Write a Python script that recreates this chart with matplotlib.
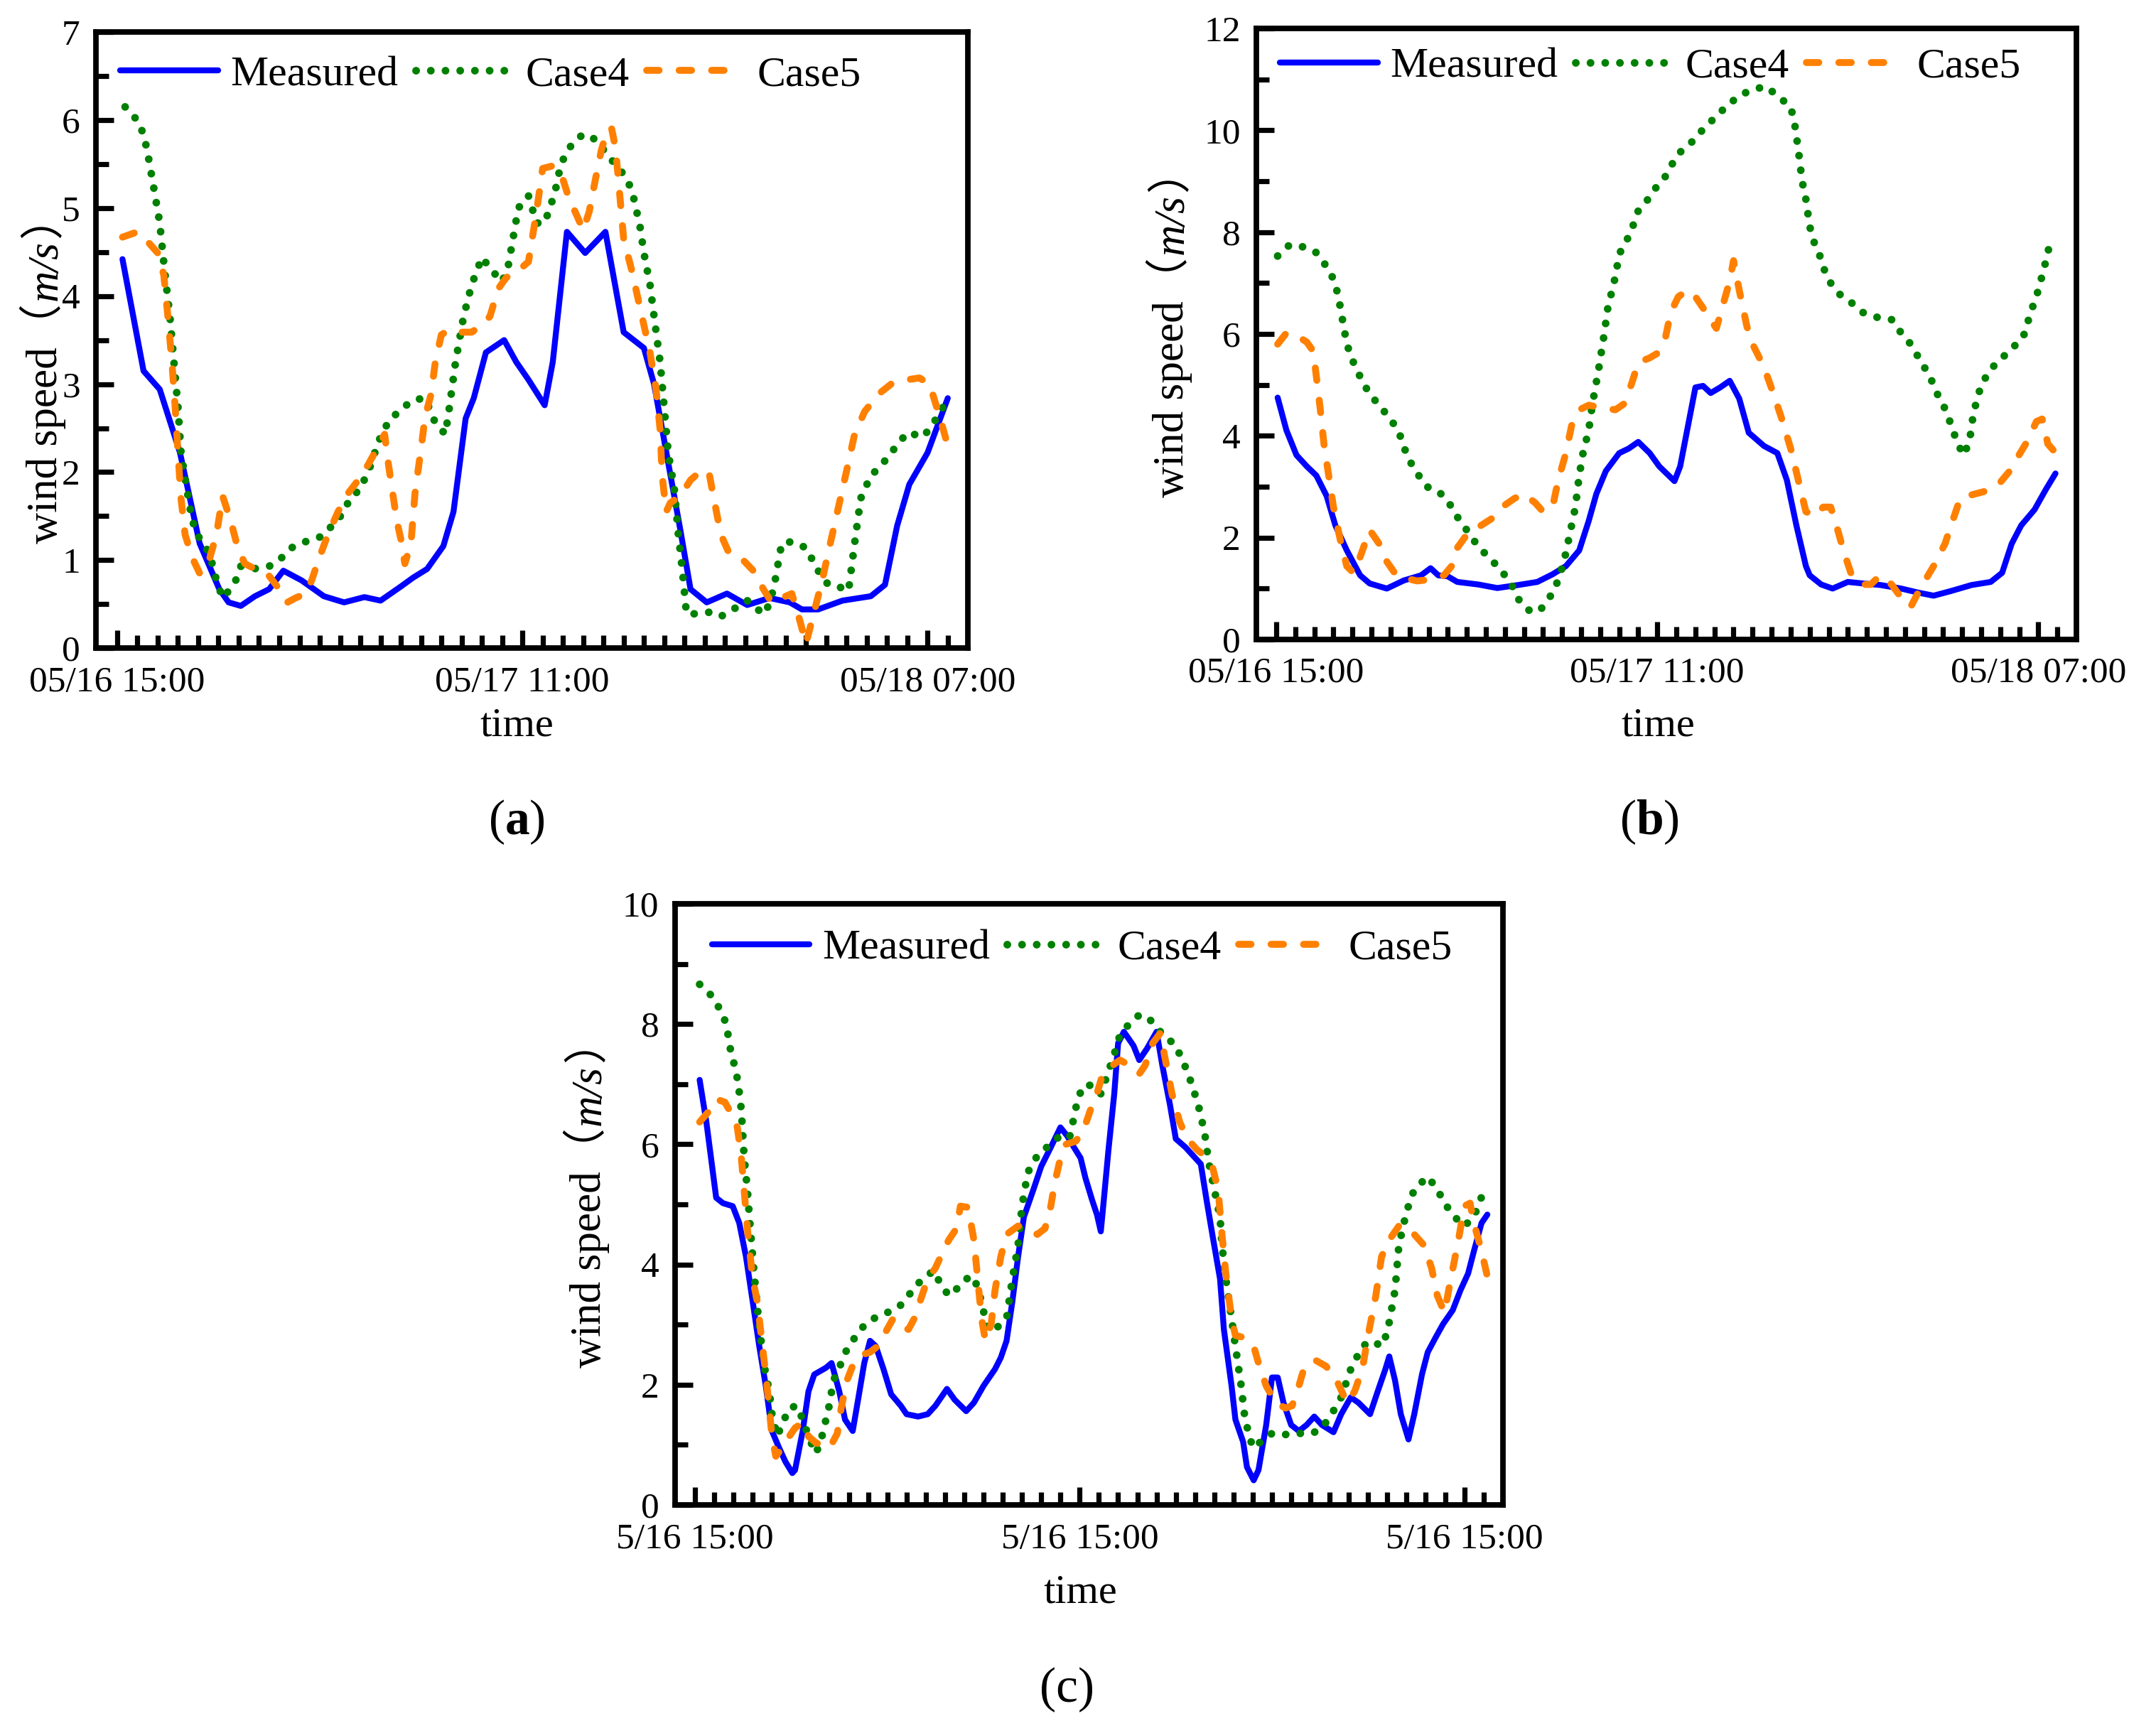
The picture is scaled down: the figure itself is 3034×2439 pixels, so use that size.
import matplotlib
matplotlib.use('Agg')
import matplotlib.pyplot as plt
from matplotlib.ticker import FixedLocator, MultipleLocator

plt.rcParams['font.family'] = ['Liberation Serif', 'Noto Sans CJK SC']
plt.rcParams['mathtext.fontset'] = 'custom'
plt.rcParams['mathtext.rm'] = 'Liberation Serif'
plt.rcParams['mathtext.bf'] = 'Liberation Serif:bold'

# ---- data (hours after 05/16 15:00, wind speed m/s) ----
a_meas_t = [0.26, 1.3, 2.1, 3.1, 4.07, 5.04, 5.5, 6.1, 6.8, 7.5,
            8.2, 9.1, 10.2, 11.2, 12.2, 13.0, 14.0, 14.6, 15.3, 16.1,
            16.6, 17.2, 17.6, 18.2, 19.1, 19.7, 20.3, 21.1, 21.5, 22.2,
            23.1, 24.1, 25.0, 26.0, 26.5, 27.8, 28.3, 29.1, 30.1, 31.1,
            32.2, 33.2, 33.8, 34.6, 35.8, 37.2, 37.9, 38.5, 39.1, 40.0,
            41.0]
a_meas_v = [4.42, 3.15, 2.94, 2.22, 1.19, 0.67, 0.52, 0.48, 0.59, 0.67,
            0.88, 0.77, 0.59, 0.52, 0.58, 0.54, 0.70, 0.80, 0.90, 1.16,
            1.55, 2.61, 2.84, 3.36, 3.50, 3.25, 3.05, 2.76, 3.25, 4.73,
            4.49, 4.73, 3.59, 3.41, 3.00, 1.34, 0.67, 0.52, 0.62, 0.49,
            0.57, 0.52, 0.44, 0.44, 0.54, 0.59, 0.72, 1.39, 1.86, 2.22,
            2.84]

a_c4_t = [0.39, 0.98, 1.3, 1.5, 1.85, 2.1, 2.34, 2.6, 2.8, 3.0,
          3.15, 3.4, 3.7, 4.07, 4.55, 4.9, 5.2, 5.5, 5.85, 6.1,
          6.7, 7.5, 8.0, 8.6, 9.3, 10.1, 10.6, 11.1, 11.5, 12.0,
          12.5, 12.9, 13.4, 14.0, 14.6, 15.2, 15.7, 16.2, 16.4, 16.7,
          17.1, 17.5, 18.0, 18.5, 19.0, 19.3, 19.8, 20.3, 20.7, 21.1,
          21.6, 21.9, 22.3, 22.8, 23.2, 23.7, 24.2, 24.7, 25.2, 25.5,
          25.8, 26.0, 26.3, 26.5, 26.8, 27.0, 27.2, 27.5, 27.7, 27.9,
          28.1, 28.6, 29.3, 29.8, 30.4, 31.1, 31.6, 32.0, 32.4, 32.8,
          33.3, 34.0, 34.6, 35.1, 35.6, 36.1, 36.4, 36.7, 37.2, 37.7,
          38.2, 39.0, 39.8, 40.5, 41.0]
a_c4_v = [6.15, 6.00, 5.84, 5.63, 5.17, 4.83, 4.29, 3.77, 3.25, 2.74,
          2.22, 1.86, 1.45, 1.24, 1.08, 0.77, 0.57, 0.65, 0.77, 0.93,
          0.90, 0.93, 1.00, 1.14, 1.21, 1.27, 1.39, 1.52, 1.70, 1.81,
          2.07, 2.35, 2.58, 2.71, 2.82, 2.84, 2.56, 2.43, 2.74, 3.25,
          3.77, 4.13, 4.44, 4.29, 4.16, 4.34, 5.00, 5.14, 4.83, 4.83,
          5.17, 5.50, 5.68, 5.81, 5.84, 5.76, 5.60, 5.47, 5.32, 5.11,
          4.80, 4.49, 4.13, 3.77, 3.25, 2.74, 2.22, 1.81, 1.29, 0.88,
          0.39, 0.39, 0.41, 0.36, 0.44, 0.54, 0.44, 0.39, 0.67, 1.19,
          1.21, 1.14, 0.88, 0.72, 0.70, 0.65, 1.19, 1.70, 1.96, 2.07,
          2.22, 2.45, 2.40, 2.63, 2.84]

a_c5_t = [0.26, 1.0, 1.5, 2.0, 2.3, 2.5, 2.7, 2.86, 3.0, 3.15,
          3.35, 3.7, 4.07, 4.45, 4.9, 5.2, 5.6, 5.95, 6.3, 6.8,
          7.4, 7.9, 8.4, 8.8, 9.3, 9.6, 9.9, 10.4, 10.9, 11.4,
          11.9, 12.4, 12.9, 13.2, 13.4, 13.8, 14.0, 14.2, 14.5, 14.7,
          15.0, 15.2, 15.5, 15.7, 16.0, 16.4, 16.9, 17.5, 18.0, 18.4,
          18.8, 19.2, 19.8, 20.3, 20.7, 21.0, 21.5, 21.9, 22.3, 22.7,
          23.0, 23.3, 23.6, 23.9, 24.2, 24.4, 24.6, 24.8, 25.0, 25.4,
          25.7, 26.0, 26.3, 26.6, 26.8, 26.9, 27.1, 27.3, 27.8, 28.3,
          28.8, 29.2, 29.4, 29.8, 30.2, 30.9, 31.4, 31.9, 32.3, 32.8,
          33.3, 33.7, 34.0, 34.4, 34.8, 35.2, 35.6, 36.0, 36.4, 36.9,
          37.6, 38.2, 39.0, 39.6, 40.1, 40.6, 41.0]
a_c5_v = [4.67, 4.73, 4.62, 4.49, 4.24, 3.77, 3.25, 2.74, 2.22, 1.70,
          1.29, 1.03, 0.85, 0.93, 1.29, 1.73, 1.45, 1.14, 0.96, 0.90,
          0.85, 0.70, 0.52, 0.57, 0.62, 0.77, 0.98, 1.29, 1.55, 1.76,
          1.91, 2.09, 2.30, 2.43, 2.07, 1.45, 1.24, 0.96, 1.19, 1.76,
          2.27, 2.63, 2.89, 3.25, 3.56, 3.62, 3.59, 3.59, 3.67, 3.77,
          4.08, 4.21, 4.29, 4.39, 4.96, 5.45, 5.48, 5.40, 5.11, 4.91,
          4.75, 4.96, 5.32, 5.66, 5.89, 5.91, 5.68, 5.17, 4.65, 4.29,
          3.98, 3.67, 3.36, 2.94, 2.48, 1.96, 1.55, 1.65, 1.73, 1.91,
          2.01, 2.01, 1.76, 1.29, 1.08, 1.00, 0.88, 0.67, 0.52, 0.57,
          0.62, 0.31, 0.05, 0.41, 0.77, 1.19, 1.60, 2.01, 2.43, 2.69,
          2.89, 3.00, 3.05, 3.07, 3.00, 2.63, 2.30]

b_meas_t = [0.07, 0.53, 1.06, 1.6, 2.1, 2.64, 3.1, 3.7, 4.4, 4.9,
            5.8, 6.7, 7.6, 8.1, 8.5, 9.0, 9.5, 10.6, 11.6, 12.7,
            13.7, 14.5, 15.2, 15.9, 16.4, 16.8, 17.3, 18.0, 18.5, 19.0,
            19.6, 20.1, 20.9, 21.2, 21.7, 22.0, 22.4, 22.8, 23.3, 23.8,
            24.3, 24.8, 25.6, 26.3, 26.8, 27.3, 27.8, 28.0, 28.6, 29.2,
            30.0, 30.8, 31.7, 32.8, 33.7, 34.5, 35.4, 36.5, 37.5, 38.1,
            38.6, 39.1, 39.8, 40.4, 40.9]
b_meas_v = [4.75, 4.11, 3.62, 3.40, 3.22, 2.82, 2.24, 1.75, 1.26, 1.10,
            1.00, 1.16, 1.26, 1.40, 1.26, 1.24, 1.13, 1.08, 1.01, 1.07,
            1.13, 1.28, 1.44, 1.75, 2.33, 2.86, 3.31, 3.66, 3.75, 3.88,
            3.66, 3.40, 3.11, 3.40, 4.37, 4.95, 4.98, 4.84, 4.95, 5.08,
            4.73, 4.06, 3.80, 3.66, 3.13, 2.24, 1.44, 1.26, 1.08, 1.00,
            1.13, 1.10, 1.07, 1.00, 0.92, 0.86, 0.95, 1.07, 1.13, 1.31,
            1.88, 2.24, 2.55, 2.95, 3.26]

b_c4_t = [0.07, 0.7, 1.4, 2.04, 2.5, 3.0, 3.24, 3.45, 3.7, 4.05,
          4.5, 4.9, 5.4, 5.9, 6.4, 6.9, 7.4, 7.9, 8.5, 9.0,
          9.4, 9.9, 10.4, 10.9, 11.5, 12.0, 12.4, 12.8, 13.4, 13.9,
          14.5, 14.8, 15.1, 15.4, 15.7, 15.9, 16.1, 16.4, 16.6, 16.9,
          17.2, 17.4, 17.8, 18.0, 18.4, 18.75, 19.0, 19.5, 19.9, 20.4,
          20.8, 21.2, 21.9, 22.4, 23.0, 23.6, 24.3, 25.0, 25.7, 26.3,
          27.0, 27.2, 27.4, 27.6, 27.8, 28.0, 28.3, 28.6, 28.8, 29.1,
          29.6, 30.2, 30.8, 31.5, 32.3, 32.8, 33.3, 33.8, 34.3, 34.7,
          35.2, 35.5, 35.9, 36.1, 36.4, 36.6, 37.0, 37.5, 38.1, 38.6,
          39.2, 39.6, 40.0, 40.4, 40.7]
b_c4_v = [7.53, 7.75, 7.71, 7.62, 7.40, 7.08, 6.77, 6.33, 5.80, 5.44,
          5.08, 4.82, 4.60, 4.37, 4.11, 3.57, 3.26, 3.00, 2.91, 2.73,
          2.46, 2.20, 1.93, 1.71, 1.48, 1.26, 1.04, 0.73, 0.53, 0.60,
          0.91, 1.17, 1.53, 2.06, 2.60, 3.22, 3.66, 4.11, 4.64, 5.26,
          5.97, 6.51, 7.13, 7.57, 7.84, 8.15, 8.42, 8.64, 8.86, 9.08,
          9.35, 9.57, 9.80, 10.02, 10.24, 10.46, 10.68, 10.80, 10.86, 10.68,
          10.46, 10.15, 9.62, 9.00, 8.64, 8.11, 7.71, 7.48, 7.22, 7.00,
          6.77, 6.61, 6.42, 6.33, 6.28, 6.02, 5.80, 5.48, 5.17, 4.82,
          4.46, 4.11, 3.75, 3.62, 3.93, 4.46, 5.00, 5.31, 5.53, 5.71,
          5.93, 6.42, 6.86, 7.44, 7.93]

b_c5_t = [0.07, 0.53, 1.06, 1.6, 1.94, 2.1, 2.3, 2.5, 2.75, 3.0,
          3.35, 3.7, 4.05, 4.4, 4.9, 5.4, 5.8, 6.3, 6.9, 7.4,
          7.9, 8.5, 8.8, 9.2, 9.5, 10.0, 10.75, 11.5, 12.0, 12.5,
          13.0, 13.6, 14.0, 14.5, 14.8, 15.2, 15.5, 15.9, 16.4, 17.1,
          17.8, 18.3, 18.7, 19.0, 19.6, 20.0, 20.4, 20.7, 21.1, 21.6,
          22.0, 22.4, 22.7, 23.1, 23.4, 23.8, 24.0, 24.3, 24.7, 25.0,
          25.6, 26.1, 26.5, 27.0, 27.4, 27.8, 28.3, 28.7, 29.1, 29.4,
          29.8, 30.2, 30.7, 31.2, 31.7, 32.3, 32.8, 33.3, 33.8, 34.5,
          35.1, 35.5, 35.9, 36.5, 37.2, 37.9, 38.5, 38.9, 39.4, 39.9,
          40.2, 40.5, 40.8]
b_c5_v = [5.80, 6.02, 5.97, 5.84, 5.66, 5.17, 4.55, 3.84, 3.22, 2.60,
          1.97, 1.44, 1.31, 1.62, 2.15, 1.88, 1.53, 1.26, 1.19, 1.15,
          1.17, 1.22, 1.26, 1.44, 1.80, 2.06, 2.24, 2.42, 2.64, 2.77,
          2.86, 2.68, 2.51, 2.60, 3.13, 3.66, 4.20, 4.51, 4.60, 4.55,
          4.51, 4.64, 5.08, 5.44, 5.53, 5.62, 5.88, 6.42, 6.73, 6.86,
          6.73, 6.51, 6.33, 6.11, 6.51, 7.04, 7.44, 6.86, 6.15, 5.80,
          5.35, 4.82, 4.37, 3.75, 3.13, 2.51, 2.42, 2.60, 2.60, 2.24,
          1.71, 1.26, 1.08, 1.08, 1.26, 1.08, 0.82, 0.64, 1.00, 1.44,
          1.88, 2.33, 2.77, 2.84, 2.91, 3.04, 3.31, 3.57, 3.88, 4.28,
          4.33, 3.84, 3.71]

c_meas_t = [0.24, 0.59, 1.1, 1.45, 1.96, 2.3, 2.65, 3.0, 3.34, 3.68,
            4.0, 4.37, 4.7, 5.06, 5.2, 5.6, 5.9, 6.2, 6.8, 7.1,
            7.5, 7.8, 8.2, 8.5, 8.8, 9.1, 9.4, 9.8, 10.2, 10.7,
            11.0, 11.6, 12.1, 12.5, 13.1, 13.5, 14.1, 14.5, 15.0, 15.6,
            15.9, 16.2, 16.5, 16.8, 17.1, 17.6, 18.0, 18.5, 19.0, 19.35,
            19.7, 20.05, 20.3, 20.65, 20.9, 21.1, 21.2, 21.5, 21.8, 22.0,
            22.3, 22.8, 23.1, 23.5, 24.0, 24.3, 24.7, 25.0, 25.5, 25.9,
            26.3, 26.6, 26.9, 27.3, 27.5, 27.9, 28.1, 28.5, 28.7, 29.05,
            29.3, 29.7, 30.0, 30.3, 30.6, 31.0, 31.4, 31.8, 32.2, 32.6,
            33.2, 33.6, 34.1, 34.5, 35.1, 35.5, 35.9, 36.1, 36.4, 36.7,
            37.1, 37.4, 37.8, 38.1, 38.5, 38.9, 39.4, 39.8, 40.2, 40.5,
            40.9, 41.2]
c_meas_v = [7.07, 6.37, 5.11, 5.02, 4.97, 4.69, 4.13, 3.38, 2.64, 1.98,
            1.23, 0.95, 0.72, 0.53, 0.58, 1.23, 1.89, 2.17, 2.28, 2.36,
            1.89, 1.42, 1.23, 1.79, 2.36, 2.73, 2.64, 2.26, 1.84, 1.65,
            1.51, 1.47, 1.51, 1.65, 1.93, 1.75, 1.56, 1.70, 1.98, 2.26,
            2.45, 2.73, 3.38, 4.13, 4.79, 5.25, 5.63, 5.95, 6.28, 6.14,
            5.95, 5.77, 5.44, 5.07, 4.83, 4.55, 4.88, 5.91, 6.84, 7.68,
            7.87, 7.64, 7.40, 7.59, 7.87, 7.31, 6.65, 6.09, 5.95, 5.81,
            5.67, 5.07, 4.50, 3.76, 2.92, 1.98, 1.42, 1.05, 0.63, 0.41,
            0.58, 1.33, 2.12, 2.12, 1.70, 1.33, 1.23, 1.33, 1.47, 1.33,
            1.21, 1.51, 1.79, 1.70, 1.51, 1.89, 2.26, 2.47, 2.07, 1.51,
            1.09, 1.51, 2.17, 2.54, 2.78, 3.01, 3.24, 3.57, 3.85, 4.22,
            4.69, 4.83]

c_c4_t = [0.24, 0.83, 1.27, 1.62, 1.86, 2.07, 2.24, 2.41, 2.55, 2.72,
          2.9, 3.1, 3.24, 3.4, 3.6, 3.86, 4.0, 4.27, 4.54, 4.9,
          5.3, 5.6, 5.9, 6.2, 6.3, 6.6, 6.95, 7.2, 7.6, 7.9,
          8.3, 8.85, 9.4, 10.0, 10.6, 11.1, 11.5, 11.9, 12.4, 12.8,
          13.2, 13.7, 14.1, 14.5, 14.9, 15.2, 15.6, 15.9, 16.2, 16.5,
          16.8, 17.0, 17.3, 17.8, 18.3, 18.8, 19.2, 19.5, 19.9, 20.2,
          20.7, 21.1, 21.5, 21.8, 22.1, 22.6, 23.1, 23.5, 24.0, 24.4,
          24.9, 25.2, 25.6, 25.9, 26.2, 26.5, 26.7, 27.0, 27.3, 27.4,
          27.6, 27.9, 28.1, 28.4, 28.6, 29.0, 29.5, 30.0, 30.5, 31.05,
          31.6, 32.1, 32.6, 33.1, 33.6, 34.1, 34.7, 35.2, 35.7, 36.0,
          36.4, 36.6, 37.0, 37.4, 38.1, 38.6, 38.97, 39.5, 40.0, 40.5,
          41.0]
c_c4_v = [8.66, 8.48, 8.26, 8.01, 7.54, 7.29, 7.03, 6.56, 5.81, 5.25,
          4.50, 3.76, 3.29, 2.82, 2.31, 1.89, 1.51, 1.14, 1.35, 1.61,
          1.65, 1.42, 1.14, 0.91, 0.86, 1.14, 1.61, 2.07, 2.36, 2.59,
          2.78, 3.01, 3.12, 3.20, 3.29, 3.48, 3.66, 3.76, 3.90, 3.66,
          3.48, 3.62, 3.76, 3.80, 3.38, 2.92, 2.92, 3.01, 3.10, 3.76,
          4.32, 4.97, 5.53, 5.81, 5.95, 6.09, 6.19, 6.14, 6.75, 6.98,
          6.98, 6.84, 7.21, 7.50, 7.82, 8.01, 8.15, 8.12, 7.96, 7.78,
          7.68, 7.50, 7.21, 6.93, 6.61, 6.19, 5.72, 5.25, 4.79, 4.32,
          3.76, 3.10, 2.64, 1.98, 1.42, 0.95, 1.07, 1.19, 1.16, 1.19,
          1.19, 1.19, 1.28, 1.51, 1.79, 2.26, 2.64, 2.73, 2.64, 2.87,
          3.57, 4.32, 4.88, 5.25, 5.46, 5.25, 5.02, 4.79, 4.64, 4.79,
          5.21]

c_c5_t = [0.24, 0.7, 1.1, 1.55, 1.96, 2.2, 2.4, 2.55, 2.75, 3.0,
          3.24, 3.44, 3.68, 3.86, 4.0, 4.2, 4.54, 4.9, 5.2, 5.6,
          5.9, 6.3, 6.6, 7.0, 7.4, 7.6, 7.9, 8.3, 8.7, 9.1,
          9.5, 9.9, 10.3, 10.7, 11.1, 11.4, 11.8, 12.1, 12.5, 12.9,
          13.2, 13.6, 13.8, 14.2, 14.5, 14.7, 14.9, 15.1, 15.4, 15.6,
          15.9, 16.2, 16.8, 17.3, 17.8, 18.2, 18.5, 18.7, 19.0, 19.3,
          19.8, 20.2, 20.55, 20.9, 21.2, 21.7, 22.1, 22.6, 23.1, 23.4,
          23.8, 24.2, 24.4, 24.8, 25.2, 25.6, 26.1, 26.5, 26.9, 27.2,
          27.4, 27.6, 27.9, 28.1, 28.6, 29.05, 29.3, 29.7, 30.2, 30.7,
          31.05, 31.4, 31.7, 32.3, 32.8, 33.2, 33.5, 33.9, 34.3, 34.7,
          35.0, 35.4, 35.7, 36.1, 36.6, 37.0, 37.4, 37.9, 38.3, 38.6,
          38.97, 39.3, 39.7, 40.0, 40.3, 40.5, 40.9, 41.2]
c_c5_v = [6.37, 6.54, 6.75, 6.70, 6.47, 6.28, 5.81, 5.25, 4.50, 3.76,
          3.38, 2.82, 2.17, 1.61, 1.14, 0.81, 0.95, 1.14, 1.28, 1.37,
          1.14, 1.03, 1.00, 0.95, 1.19, 1.61, 2.07, 2.40, 2.50, 2.54,
          2.64, 2.87, 3.10, 2.96, 2.92, 3.10, 3.48, 3.76, 3.94, 4.22,
          4.41, 4.60, 4.97, 4.95, 4.41, 3.76, 3.10, 2.73, 3.01, 3.57,
          4.13, 4.50, 4.64, 4.60, 4.50, 4.60, 4.97, 5.35, 5.77, 6.00,
          6.05, 6.23, 6.56, 6.84, 7.17, 7.31, 7.40, 7.31, 7.17, 7.31,
          7.68, 7.85, 7.50, 6.84, 6.37, 6.09, 5.91, 5.81, 5.63, 5.25,
          4.50, 3.85, 3.10, 2.82, 2.78, 2.64, 2.36, 1.98, 1.70, 1.61,
          1.65, 1.98, 2.31, 2.40, 2.31, 2.17, 1.98, 1.70, 1.89, 2.26,
          2.82, 3.48, 4.13, 4.41, 4.64, 4.64, 4.50, 4.32, 3.94, 3.48,
          3.20, 3.76, 4.41, 4.97, 5.02, 4.69, 4.22, 3.80]

labels_ab = ['05/16 15:00', '05/17 11:00', '05/18 07:00']
labels_c = ['5/16 15:00', '5/16 15:00', '5/16 15:00']
series_names = ['Measured', 'Case4', 'Case5']
ylabel_pieces = ['wind speed（', 'm/s', '）']

fig = plt.figure(figsize=(15.17, 12.195), dpi=200)
renderer = fig.canvas.get_renderer()
YLAB_SIZE = 22


def text_width(s, **kw):
    t = fig.text(0, 0, s, **kw)
    w = t.get_window_extent(renderer).width
    t.remove()
    return w


def ylabel_parts(ax, xb, yb):
    # rotated y label built from pieces so that "m/s" can be italic
    styles = ['normal', 'italic', 'normal']
    pad = 0.06 * YLAB_SIZE * fig.dpi / 72.0
    y = yb
    for piece, st in zip(ylabel_pieces, styles):
        ax.text(xb, y, piece, transform=ax.transAxes, rotation=90,
                rotation_mode='anchor', ha='left', va='baseline',
                fontsize=YLAB_SIZE, style=st)
        w = text_width(piece, fontsize=YLAB_SIZE, style=st)
        y += (w + pad) / ax.bbox.height


def panel(rect, meas, c4, c5, ymax, ymajor, yminor, xlabels, ylab_xy, leg_xy):
    ax = fig.add_axes(rect)
    ax.plot(meas[0], meas[1], color='#0000FF', lw=3.0, solid_capstyle='round',
            solid_joinstyle='round', label=series_names[0])
    ax.plot(c4[0], c4[1], color='#008000', lw=3.9, linestyle=(0, (0.01, 1.9)),
            dash_capstyle='round', label=series_names[1])
    ax.plot(c5[0], c5[1], color='#FF8000', lw=3.5, linestyle=(0, (1.8, 2.9)),
            dash_capstyle='round', label=series_names[2])
    ax.set_xlim(-1.05, 42.0)
    ax.set_ylim(0, ymax)
    ax.xaxis.set_major_locator(FixedLocator([0, 20, 40]))
    ax.xaxis.set_minor_locator(FixedLocator(list(range(0, 42))))
    ax.set_xticklabels(xlabels)
    ax.yaxis.set_major_locator(MultipleLocator(ymajor))
    ax.yaxis.set_minor_locator(MultipleLocator(yminor))
    ax.tick_params(which='both', direction='in', top=False, right=False, width=2.6)
    ax.tick_params(which='major', length=9, labelsize=18.5)
    ax.tick_params(which='minor', length=6.5)
    ax.tick_params(axis='x', which='major', pad=9)
    ax.tick_params(axis='y', which='major', pad=8)
    for s in ax.spines.values():
        s.set_linewidth(2.8)
    ylabel_parts(ax, *ylab_xy)
    ax.legend(loc='center left', bbox_to_anchor=leg_xy, ncol=3, frameon=False,
              fontsize=21.5, handlelength=2.3, handletextpad=0.3, columnspacing=0.4,
              borderpad=0, borderaxespad=0)
    return ax


panel([0.0445, 0.626, 0.4045, 0.3555], (a_meas_t, a_meas_v), (a_c4_t, a_c4_v),
      (a_c5_t, a_c5_v), 7, 1, 0.5, labels_ab, (-0.045, 0.17), (0.028, 0.93))
panel([0.5827, 0.631, 0.3804, 0.3526], (b_meas_t, b_meas_v), (b_c4_t, b_c4_v),
      (b_c5_t, b_c5_v), 12, 2, 1, labels_ab, (-0.089, 0.233), (0.029, 0.937))
panel([0.313, 0.1316, 0.384, 0.3469], (c_meas_t, c_meas_v), (c_c4_t, c_c4_v),
      (c_c5_t, c_c5_v), 10, 2, 1, labels_c, (-0.090, 0.228), (0.045, 0.925))

fig.text(0.2396, 0.581, 'time', fontsize=21, ha='center', va='center')
fig.text(0.769, 0.581, 'time', fontsize=21, ha='center', va='center')
fig.text(0.501, 0.081, 'time', fontsize=21, ha='center', va='center')
fig.text(0.2396, 0.5256, r'($\mathbf{a}$)', fontsize=25, ha='center', va='center')
fig.text(0.765, 0.5256, r'($\mathbf{b}$)', fontsize=25, ha='center', va='center')
fig.text(0.495, 0.025, '(c)', fontsize=25, ha='center', va='center')

fig.savefig('out.png', dpi=200, facecolor='white')
